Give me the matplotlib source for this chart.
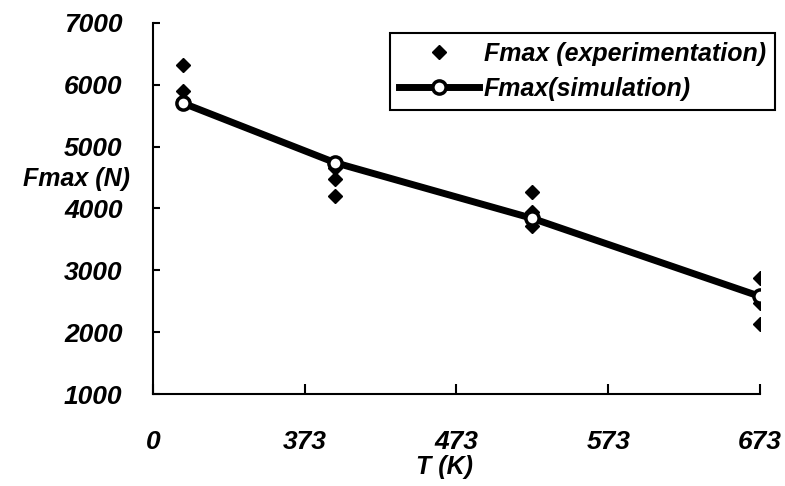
import matplotlib
matplotlib.use('Agg')
import matplotlib.pyplot as plt

# temperature (K) and maximum force (N)
t_sim = [293, 393, 523, 673]
f_sim = [5700, 4740, 3840, 2580]

t_exp = [293, 293, 293, 393, 393, 393, 523, 523, 523, 673, 673, 673]
f_exp = [6320, 5900, 5760, 4650, 4480, 4200, 4260, 3950, 3720, 2880, 2480, 2140]

x_ticks = [273, 373, 473, 573, 673]
x_labels = ['0', '373', '473', '573', '673']
y_ticks = [1000, 2000, 3000, 4000, 5000, 6000, 7000]

plt.rcParams['font.family'] = ['Liberation Sans', 'DejaVu Sans']
plt.rcParams['font.weight'] = 'bold'
plt.rcParams['font.style'] = 'italic'

fig = plt.figure(figsize=(7.85, 4.86), dpi=100)
ax = fig.add_axes([0.195, 0.189, 0.773, 0.764])

ax.plot(t_exp, f_exp, 'D', color='black', markersize=7.5, linestyle='none',
        label='Fmax (experimentation)', zorder=2)
ax.plot(t_sim, f_sim, '-o', color='black', linewidth=5, markersize=9.5,
        markerfacecolor='white', markeredgecolor='black', markeredgewidth=2.5,
        label='Fmax(simulation)', zorder=3)

ax.set_xlim(273, 673)
ax.set_ylim(1000, 7000)
ax.set_xticks(x_ticks)
ax.set_xticklabels(x_labels)
ax.set_yticks(y_ticks)

ax.spines['top'].set_visible(False)
ax.spines['right'].set_visible(False)
for s in ['left', 'bottom']:
    ax.spines[s].set_linewidth(1.5)

ax.tick_params(axis='x', direction='in', length=7, width=1.5, pad=26, labelsize=19)
ax.tick_params(axis='y', direction='in', length=5, width=1.5, pad=22, labelsize=19)

ax.set_ylabel('Fmax (N)', rotation=0, fontsize=18, fontweight='bold',
              ha='right', va='center')
ax.yaxis.set_label_coords(-0.038, 0.58)
ax.set_xlabel('T (K)', fontsize=18, fontweight='bold')
ax.xaxis.set_label_coords(0.48, -0.165)

leg = ax.legend(loc='upper right', bbox_to_anchor=(0.987, 0.932),
                bbox_transform=fig.transFigure, fontsize=18, frameon=True,
                fancybox=False, framealpha=1, edgecolor='black',
                handlelength=3.2, handletextpad=0.2, borderpad=0.35,
                labelspacing=0.45, borderaxespad=0)
leg.get_frame().set_linewidth(1.5)

fig.savefig('out.png', dpi=100)
